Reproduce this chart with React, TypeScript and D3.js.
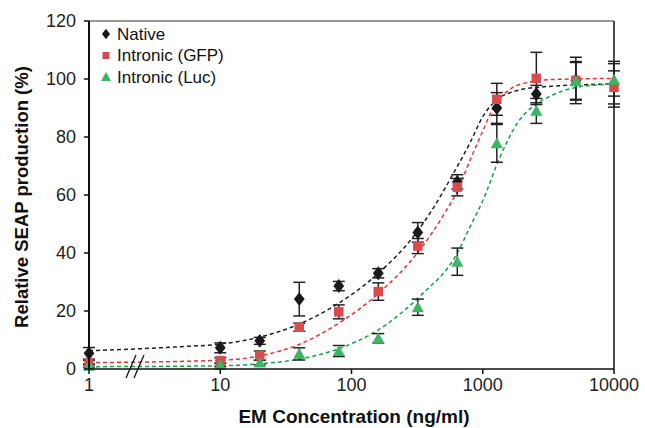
import React from "react";
import * as d3 from "d3";

const concentrations = [1, 10, 20, 40, 80, 160, 320, 640, 1280, 2560, 5120, 10000];
const nativeValues = [5.4, 7.3, 9.7, 24.1, 28.6, 33, 47.1, 64.5, 90, 94.8, 99.5, 98.2];
const nativeErrors = [2, 1.7, 1.2, 5.8, 1.6, 1.6, 3.4, 2.5, 5.3, 3, 6.5, 7.9];
const gfpValues = [2.2, 2.9, 4.6, 14.4, 19.7, 26.7, 42.4, 62.7, 93, 100.2, 99.5, 97.1];
const gfpErrors = [0.8, 1, 1.6, 1.4, 2.4, 3, 2.6, 3, 5.5, 9, 8, 5.7];
const lucValues = [1.1, 1.4, 2.2, 5.2, 6.2, 10.6, 21.3, 37, 77.8, 89, 99.2, 99.7];
const lucErrors = [0.6, 0.6, 0.8, 2.1, 1.9, 1.6, 2.8, 4.7, 6.5, 4.3, 6.5, 5.6];

// Fitted curves as (concentration, value)
const nativeFit: [number, number][] = [[1, 6.3], [5, 7.7], [10, 8.6], [20, 11], [40, 15.5], [80, 22.7], [160, 33], [300, 46], [400, 54], [590, 67], [800, 78], [1000, 87], [1290, 93], [1620, 95.3], [2720, 97.2], [10000, 98.3]];
const gfpFit: [number, number][] = [[1, 2.2], [10, 3], [20, 4.5], [40, 8.5], [80, 15.8], [160, 26], [330, 41], [517, 54], [634, 61], [800, 72], [1000, 82], [1200, 90], [1620, 96.5], [2300, 99], [3240, 99.8], [10000, 100.2]];
const lucFit: [number, number][] = [[1, 0.8], [10, 1.1], [20, 1.8], [40, 3.4], [80, 7], [160, 13.5], [330, 25], [640, 40], [800, 49], [1000, 58], [1350, 73], [1830, 84.7], [2600, 91.6], [3240, 94], [5000, 97], [10000, 98.3]];

const xTicks = [1, 10, 100, 1000, 10000];
const yTicks = [0, 20, 40, 60, 80, 100, 120];
const seriesNames = ["Native", "Intronic (GFP)", "Intronic (Luc)"];

const FONT = "'Liberation Sans', Arial, Helvetica, sans-serif";

export default function App() {
  const W = 645, H = 428;
  const left = 89, right = 614, top = 21, bottom = 369;
  const x = d3.scaleLog().domain([1, 10000]).range([left, right]);
  const y = d3.scaleLinear().domain([0, 120]).range([bottom, top]);

  const line = d3.line<[number, number]>()
    .x((d) => x(d[0]))
    .y((d) => y(d[1]))
    .curve(d3.curveMonotoneX);

  const series = [
    { name: seriesNames[0], values: nativeValues, errors: nativeErrors, fit: nativeFit, marker: "diamond", fill: "#1a1a1a", lineColor: "#1e1e1e" },
    { name: seriesNames[1], values: gfpValues, errors: gfpErrors, fit: gfpFit, marker: "square", fill: "#d94a4c", lineColor: "#e8302f" },
    { name: seriesNames[2], values: lucValues, errors: lucErrors, fit: lucFit, marker: "triangle", fill: "#3db466", lineColor: "#17a042" },
  ];

  const markerPath = (type: string, s: number) => {
    if (type === "diamond") return `M0,${-s * 0.58}L${s * 0.45},0L0,${s * 0.58}L${-s * 0.45},0Z`;
    if (type === "square") return `M${-s / 2},${-s / 2}h${s}v${s}h${-s}Z`;
    return `M0,${-s * 0.55}L${s * 0.55},${s * 0.45}L${-s * 0.55},${s * 0.45}Z`;
  };

  return (
    <svg width={W} height={H} style={{ position: "absolute", left: 0, top: 0, background: "#fff" }} fontFamily={FONT}>
      {/* frame */}
      <line x1={left} x2={right} y1={top} y2={top} stroke="#777" strokeWidth={1.5} />
      <line x1={right} x2={right} y1={top} y2={bottom} stroke="#111" strokeWidth={1.5} />

      {/* fitted curves */}
      {series.map((s) => (
        <path key={s.name + "fit"} d={line(s.fit) || ""} fill="none" stroke={s.lineColor} strokeWidth={1.5} strokeDasharray="4,3" />
      ))}

      {/* error bars */}
      {series.map((s) => (
        <g key={s.name + "err"} stroke="#222" strokeWidth={1.5}>
          {concentrations.map((c, i) => {
            const cx = x(c);
            const y1 = y(s.values[i] + s.errors[i]);
            const y2 = y(s.values[i] - s.errors[i]);
            return (
              <g key={i}>
                <line x1={cx} x2={cx} y1={y1} y2={y2} />
                <line x1={cx - 6} x2={cx + 6} y1={y1} y2={y1} />
                <line x1={cx - 6} x2={cx + 6} y1={y2} y2={y2} />
              </g>
            );
          })}
        </g>
      ))}

      {/* markers */}
      {series.map((s) => (
        <g key={s.name + "pts"}>
          {concentrations.map((c, i) => (
            <path key={i} d={markerPath(s.marker, s.marker === "diamond" ? 12 : s.marker === "square" ? 9.5 : 11)} transform={`translate(${x(c)},${y(s.values[i])})`} fill={s.fill} />
          ))}
        </g>
      ))}

      {/* axes */}
      <line x1={left} x2={left} y1={top} y2={bottom} stroke="#111" strokeWidth={2} />
      <line x1={left} x2={right} y1={bottom} y2={bottom} stroke="#111" strokeWidth={1.5} />
      {yTicks.map((t) => (
        <g key={"y" + t}>
          <line x1={left - 5} x2={left} y1={y(t)} y2={y(t)} stroke="#111" strokeWidth={1.5} />
          <text x={76} y={y(t)} dy="0.35em" textAnchor="end" fontSize={18} fill="#222">{t}</text>
        </g>
      ))}
      {xTicks.map((t) => (
        <g key={"x" + t}>
          <line x1={x(t)} x2={x(t)} y1={bottom} y2={bottom + 5} stroke="#111" strokeWidth={1.5} />
          <text x={x(t)} y={391} textAnchor="middle" fontSize={18} fill="#222">{t}</text>
        </g>
      ))}
      {/* axis break */}
      <line x1={126} x2={136} y1={378} y2={355} stroke="#111" strokeWidth={1.3} />
      <line x1={134} x2={144} y1={378} y2={355} stroke="#111" strokeWidth={1.3} />

      {/* axis titles */}
      <text x={354} y={423} textAnchor="middle" fontSize={19} fontWeight="bold" fill="#111">EM Concentration (ng/ml)</text>
      <text transform={`translate(28,${197}) rotate(-90)`} textAnchor="middle" fontSize={18.5} fontWeight="bold" fill="#111">Relative SEAP production (%)</text>

      {/* legend */}
      {series.map((s, i) => (
        <g key={s.name + "leg"} transform={`translate(106,${34 + i * 21.5})`}>
          <path d={markerPath(s.marker, s.marker === "square" ? 7 : 9)} fill={s.fill} />
          <text x={11} y={0} dy="0.35em" fontSize={17} fill="#111">{s.name}</text>
        </g>
      ))}
    </svg>
  );
}
